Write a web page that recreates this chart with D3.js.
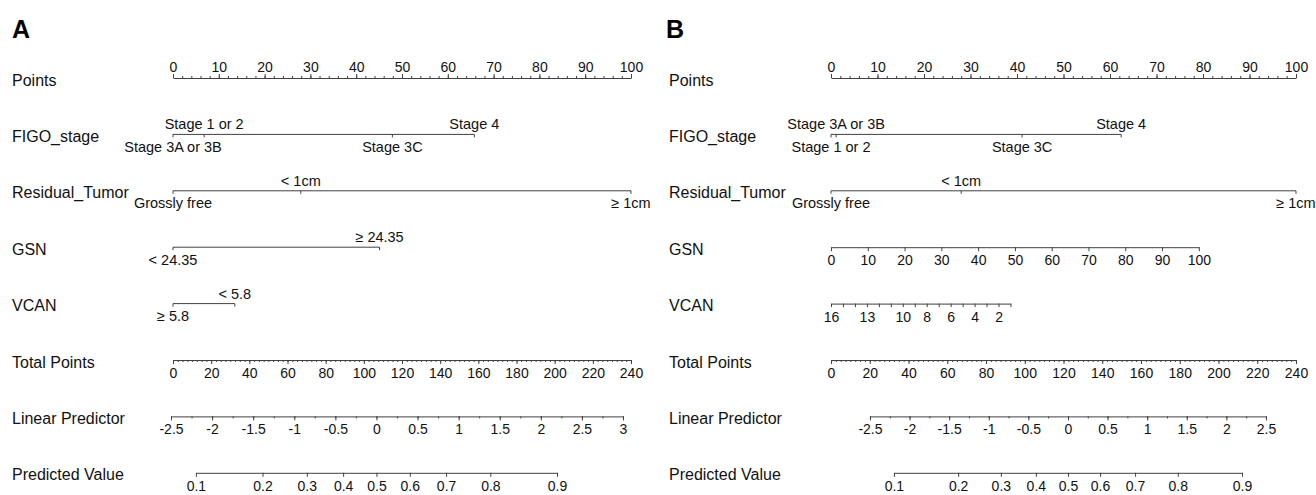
<!DOCTYPE html>
<html><head><meta charset="utf-8">
<script src="https://cdn.jsdelivr.net/npm/d3@7/dist/d3.min.js"></script>
<style>
body{margin:0;background:#fff}
svg{display:block}
text{font-family:"Liberation Sans",Arial,sans-serif;fill:#111}
</style>
</head><body>
<svg id="chart" width="1316" height="495"></svg>
<script>
// ---------- data ----------
const panelLetters = ["A", "B"];
const rowNames = ["Points", "FIGO_stage", "Residual_Tumor", "GSN", "VCAN", "Total Points", "Linear Predictor", "Predicted Value"];

const pointsTicks = [0, 10, 20, 30, 40, 50, 60, 70, 80, 90, 100];
const totalTicks = [0, 20, 40, 60, 80, 100, 120, 140, 160, 180, 200, 220, 240];
const predTicks = [0.1, 0.2, 0.3, 0.4, 0.5, 0.6, 0.7, 0.8, 0.9];

// Panel A
const figoA_levels = ["Stage 3A or 3B", "Stage 1 or 2", "Stage 3C", "Stage 4"];
const figoA_points = [0, 6.8, 47.9, 65.8];
const residualA_levels = ["Grossly free", "< 1cm", "≥ 1cm"];
const residualA_points = [0, 27.9, 100];
const gsnA_levels = ["< 24.35", "≥ 24.35"];
const gsnA_points = [0, 45.1];
const vcanA_levels = ["≥ 5.8", "< 5.8"];
const vcanA_points = [0, 13.5];
const lpA_ticks = [-2.5, -2, -1.5, -1, -0.5, 0, 0.5, 1, 1.5, 2, 2.5, 3];
const lpA_ends = [-2.5, 3];          // linear predictor at ends
const lpA_totalPts = [-1.05, 235.8]; // matching total points

// Panel B
const figoB_levels = ["Stage 1 or 2", "Stage 3A or 3B", "Stage 3C", "Stage 4"];
const figoB_points = [0, 1.1, 41.1, 62.4];
const residualB_levels = ["Grossly free", "< 1cm", "≥ 1cm"];
const residualB_points = [0, 28.0, 100];
const gsnB_ticks = [0, 10, 20, 30, 40, 50, 60, 70, 80, 90, 100];
const gsnB_domain = [0, 100];
const gsnB_points = [0, 79.1];
const vcanB_ticks = [16, 15, 14, 13, 12, 11, 10, 9, 8, 7, 6, 5, 4, 3, 2, 1];
const vcanB_labels = [16, 13, 10, 8, 6, 4, 2];
const vcanB_domain = [16, 1];
const vcanB_points = [0, 38.6];
const lpB_ticks = [-2.5, -2, -1.5, -1, -0.5, 0, 0.5, 1, 1.5, 2, 2.5];
const lpB_ends = [-2.5, 2.5];
const lpB_totalPts = [20.1, 224.5];

// ---------- layout ----------
const svg = d3.select("#chart");
const LINE = "#404040";
const rowY = i => 78 + i * 56.4;
const panels = [
  {letter: panelLetters[0], letterX: 12, labelX: 12, range: [173, 631],
   cats: [[figoA_levels, figoA_points], [residualA_levels, residualA_points], [gsnA_levels, gsnA_points], [vcanA_levels, vcanA_points]],
   lpTicks: lpA_ticks, lpEnds: lpA_ends, lpTP: lpA_totalPts, lpMinor: 0.25},
  {letter: panelLetters[1], letterX: 666, labelX: 669, range: [831, 1296],
   cats: [[figoB_levels, figoB_points], [residualB_levels, residualB_points], null, null],
   lpTicks: lpB_ticks, lpEnds: lpB_ends, lpTP: lpB_totalPts, lpMinor: 0.25}
];

const logit = p => Math.log(p / (1 - p));

function styleAxis(g) {
  g.select(".domain").attr("stroke", LINE).attr("stroke-width", 1);
  g.selectAll(".tick line").attr("stroke", LINE).attr("stroke-width", 1);
  g.selectAll("text").attr("font-size", "14px").attr("fill", "#111")
    .style("font-family", '"Liberation Sans",Arial,sans-serif');
}

function minorAxis(g, axisFn, scale, vals, size) {
  const a = g.append("g").call(axisFn(scale).tickValues(vals).tickSize(size).tickSizeOuter(0).tickFormat(""));
  a.select(".domain").remove();
  a.selectAll(".tick line").attr("stroke", LINE);
}

function bottomAxis(g, scale, y, majors, labels, minors, fmt) {
  const grp = g.append("g").attr("transform", `translate(0,${y})`);
  if (minors) minorAxis(grp, d3.axisBottom, scale, minors, 2);
  const ax = d3.axisBottom(scale).tickValues(majors).tickSize(4).tickSizeOuter(0)
    .tickFormat(d => (labels.includes(d) ? (fmt ? fmt(d) : d) : ""));
  grp.append("g").call(ax).call(styleAxis);
  grp.selectAll("text").attr("y", 18).attr("dy", 0);
  return grp;
}

panels.forEach(p => {
  const g = svg.append("g");
  const xPts = d3.scaleLinear().domain([0, 100]).range(p.range);
  const xTot = d3.scaleLinear().domain([0, 240]).range(p.range);
  const xLP = d3.scaleLinear().domain(p.lpEnds).range(p.lpTP.map(xTot));

  // panel letter
  g.append("text").attr("x", p.letterX).attr("y", 38).text(p.letter)
    .attr("font-size", "25px").attr("font-weight", "bold").style("fill", "#000");

  // row labels
  rowNames.forEach((name, i) => {
    g.append("text").attr("x", p.labelX).attr("y", rowY(i) + 7.5).text(name)
      .attr("font-size", "16px");
  });

  // Points axis (labels above, ticks up)
  const pg = g.append("g").attr("transform", `translate(0,${rowY(0)})`);
  minorAxis(pg, d3.axisTop, xPts, d3.range(0, 100.01, 2), 2);
  pg.append("g").call(d3.axisTop(xPts).tickValues(pointsTicks).tickSize(4).tickSizeOuter(0)).call(styleAxis);
  pg.selectAll("text").attr("y", -6).attr("dy", 0);

  // categorical rows
  p.cats.forEach((cat, k) => {
    if (!cat) return;
    const [levels, pts] = cat;
    const y = rowY(k + 1);
    const items = levels.map((l, j) => ({l, v: pts[j]})).sort((a, b) => a.v - b.v);
    g.append("line").attr("x1", xPts(d3.min(pts))).attr("x2", xPts(d3.max(pts)))
      .attr("y1", y).attr("y2", y).attr("stroke", LINE);
    g.selectAll(null).data(items).enter().append("line")
      .attr("x1", d => xPts(d.v)).attr("x2", d => xPts(d.v))
      .attr("y1", y).attr("y2", y + 3).attr("stroke", LINE);
    g.selectAll(null).data(items).enter().append("text")
      .attr("x", d => xPts(d.v)).attr("y", (d, j) => j % 2 === 0 ? y + 17.5 : y - 5)
      .attr("text-anchor", "middle").attr("font-size", "14.5px").text(d => d.l);
  });

  // Panel B continuous GSN and VCAN
  if (p.letter === "B") {
    const xG = d3.scaleLinear().domain(gsnB_domain).range(gsnB_points.map(xPts));
    bottomAxis(g, xG, rowY(3), gsnB_ticks, gsnB_ticks, null);
    const xV = d3.scaleLinear().domain(vcanB_domain).range(vcanB_points.map(xPts));
    const vg = g.append("g").attr("transform", `translate(0,${rowY(4)})`);
    vg.append("g").call(d3.axisBottom(xV).tickValues(vcanB_ticks).tickSize(3.5).tickSizeOuter(0)
      .tickFormat(d => vcanB_labels.includes(d) ? d : "")).call(styleAxis);
    vg.selectAll("text").attr("y", 18).attr("dy", 0);
  }

  // Total points
  bottomAxis(g, xTot, rowY(5), totalTicks, totalTicks, d3.range(0, 240.01, 2.5));

  // Linear predictor
  const lpMin = d3.range(p.lpEnds[0], p.lpEnds[1] + 1e-9, p.lpMinor);
  bottomAxis(g, xLP, rowY(6), p.lpTicks, p.lpTicks, lpMin);

  // Predicted value (logit scale via linear predictor)
  const xPV = v => xLP(logit(v));
  const pvScale = d3.scaleLinear().domain(d3.extent(predTicks).map(logit)).range(d3.extent(predTicks).map(xPV));
  const pvg = g.append("g").attr("transform", `translate(0,${rowY(7)})`);
  const pvAxis = d3.axisBottom(pvScale).tickValues(predTicks.map(logit)).tickSize(4).tickSizeOuter(0)
    .tickFormat((d, i) => predTicks[i]);
  pvg.append("g").call(pvAxis).call(styleAxis);
  pvg.selectAll("text").attr("y", 18).attr("dy", 0);
});
</script>
</body></html>
